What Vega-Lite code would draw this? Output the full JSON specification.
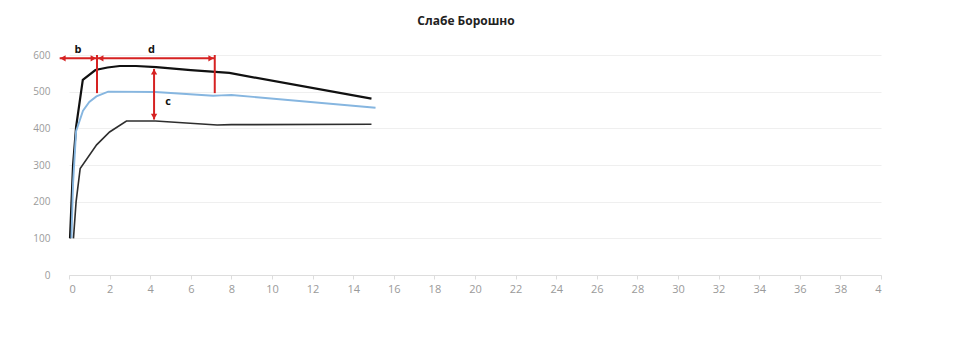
{
  "$schema": "https://vega.github.io/schema/vega-lite/v6.json",
  "width": 812,
  "height": 220,
  "autosize": {"type": "none"},
  "padding": {"left": 69, "top": 55, "right": 95, "bottom": 77},
  "background": "white",
  "title": {
    "text": "Слабе Борошно",
    "font": "Open Sans",
    "fontSize": 12,
    "fontWeight": "bold",
    "color": "#222222",
    "anchor": "middle",
    "offset": 16,
    "dx": -9
  },
  "config": {
    "view": {"stroke": null},
    "axis": {
      "labelFont": "Open Sans",
      "labelFontSize": 10,
      "labelColor": "#9a9a9a",
      "gridColor": "#efefef",
      "gridWidth": 1.2,
      "domainColor": "#dddddd",
      "tickColor": "#dddddd",
      "title": null
    }
  },
  "datasets": {
    "curves": [
      {"series": "top", "x": 0.05, "y": 100},
      {"series": "top", "x": 0.2, "y": 300},
      {"series": "top", "x": 0.35, "y": 404},
      {"series": "top", "x": 0.68, "y": 532},
      {"series": "top", "x": 1.3, "y": 559},
      {"series": "top", "x": 1.9, "y": 566},
      {"series": "top", "x": 2.5, "y": 570},
      {"series": "top", "x": 3.3, "y": 570},
      {"series": "top", "x": 4.3, "y": 567},
      {"series": "top", "x": 6.0, "y": 559},
      {"series": "top", "x": 7.9, "y": 551},
      {"series": "top", "x": 14.9, "y": 481},
      {"series": "mid", "x": 0.12, "y": 100},
      {"series": "mid", "x": 0.2, "y": 250},
      {"series": "mid", "x": 0.35, "y": 392},
      {"series": "mid", "x": 0.69, "y": 448},
      {"series": "mid", "x": 1.0, "y": 472},
      {"series": "mid", "x": 1.35, "y": 487},
      {"series": "mid", "x": 1.93, "y": 500},
      {"series": "mid", "x": 4.26, "y": 499},
      {"series": "mid", "x": 7.1, "y": 489},
      {"series": "mid", "x": 7.5, "y": 490},
      {"series": "mid", "x": 8.0, "y": 491},
      {"series": "mid", "x": 15.1, "y": 456},
      {"series": "low", "x": 0.22, "y": 100},
      {"series": "low", "x": 0.35, "y": 200},
      {"series": "low", "x": 0.55, "y": 290},
      {"series": "low", "x": 1.36, "y": 355},
      {"series": "low", "x": 2.0, "y": 390},
      {"series": "low", "x": 2.83, "y": 420},
      {"series": "low", "x": 4.26, "y": 420},
      {"series": "low", "x": 7.3, "y": 409},
      {"series": "low", "x": 8.0, "y": 410},
      {"series": "low", "x": 14.9, "y": 411}
    ],
    "segments": [
      {"x": -0.46, "x2": 7.18, "y": 591, "y2": 591},
      {"x": 1.38, "x2": 1.38, "y": 600, "y2": 496},
      {"x": 7.18, "x2": 7.18, "y": 600, "y2": 496},
      {"x": 4.19, "x2": 4.19, "y": 562, "y2": 424}
    ],
    "heads": [
      {"x": -0.3, "y": 591, "dir": "left"},
      {"x": 1.2, "y": 591, "dir": "right"},
      {"x": 1.56, "y": 591, "dir": "left"},
      {"x": 7.0, "y": 591, "dir": "right"},
      {"x": 4.19, "y": 554, "dir": "up"},
      {"x": 4.19, "y": 432, "dir": "down"}
    ],
    "labels": [
      {"x": 0.44, "y": 614, "text": "b"},
      {"x": 4.06, "y": 614, "text": "d"},
      {"x": 4.88, "y": 471, "text": "c"}
    ]
  },
  "encoding": {
    "x": {
      "field": "x",
      "type": "quantitative",
      "scale": {"domain": [0, 40], "nice": false, "zero": false},
      "axis": {
        "values": [0,2,4,6,8,10,12,14,16,18,20,22,24,26,28,30,32,34,36,38,40],
        "grid": false,
        "tickSize": 4,
        "labelPadding": 4,
        "labelFontSize": 11,
        "labelExpr": "datum.value == 40 ? '4' : datum.label"
      }
    },
    "y": {
      "field": "y",
      "type": "quantitative",
      "scale": {"domain": [0, 600], "nice": false},
      "axis": {
        "values": [0, 100, 200, 300, 400, 500, 600],
        "domain": false,
        "ticks": false,
        "tickSize": 0,
        "labelPadding": 19,
        "labelFontSize": 10,
        "labelOverlap": false
      }
    }
  },
  "layer": [
    {
      "data": {"name": "curves"},
      "mark": {"type": "line", "clip": false},
      "encoding": {
        "color": {
          "field": "series",
          "type": "nominal",
          "scale": {"domain": ["top", "mid", "low"], "range": ["#111111", "#86b6e0", "#2e2e2e"]},
          "legend": null
        },
        "size": {
          "field": "series",
          "type": "nominal",
          "scale": {"domain": ["top", "mid", "low"], "range": [2.2, 1.6, 1.8]},
          "legend": null
        },
        "order": {"field": "x", "type": "quantitative"}
      }
    },
    {
      "data": {"name": "segments"},
      "mark": {"type": "rule", "color": "#d62222", "strokeWidth": 2, "clip": false},
      "encoding": {
        "x2": {"field": "x2"},
        "y2": {"field": "y2"}
      }
    },
    {
      "data": {"name": "heads"},
      "mark": {"type": "point", "filled": true, "color": "#d62222", "opacity": 1, "size": 40, "clip": false},
      "encoding": {
        "shape": {
          "field": "dir",
          "type": "nominal",
          "scale": {"domain": ["left", "right", "up", "down"], "range": ["triangle-left", "triangle-right", "triangle-up", "triangle-down"]},
          "legend": null
        }
      }
    },
    {
      "data": {"name": "labels"},
      "mark": {"type": "text", "font": "Open Sans", "fontSize": 11, "fontWeight": "bold", "color": "#111111", "clip": false},
      "encoding": {
        "text": {"field": "text"}
      }
    }
  ]
}
